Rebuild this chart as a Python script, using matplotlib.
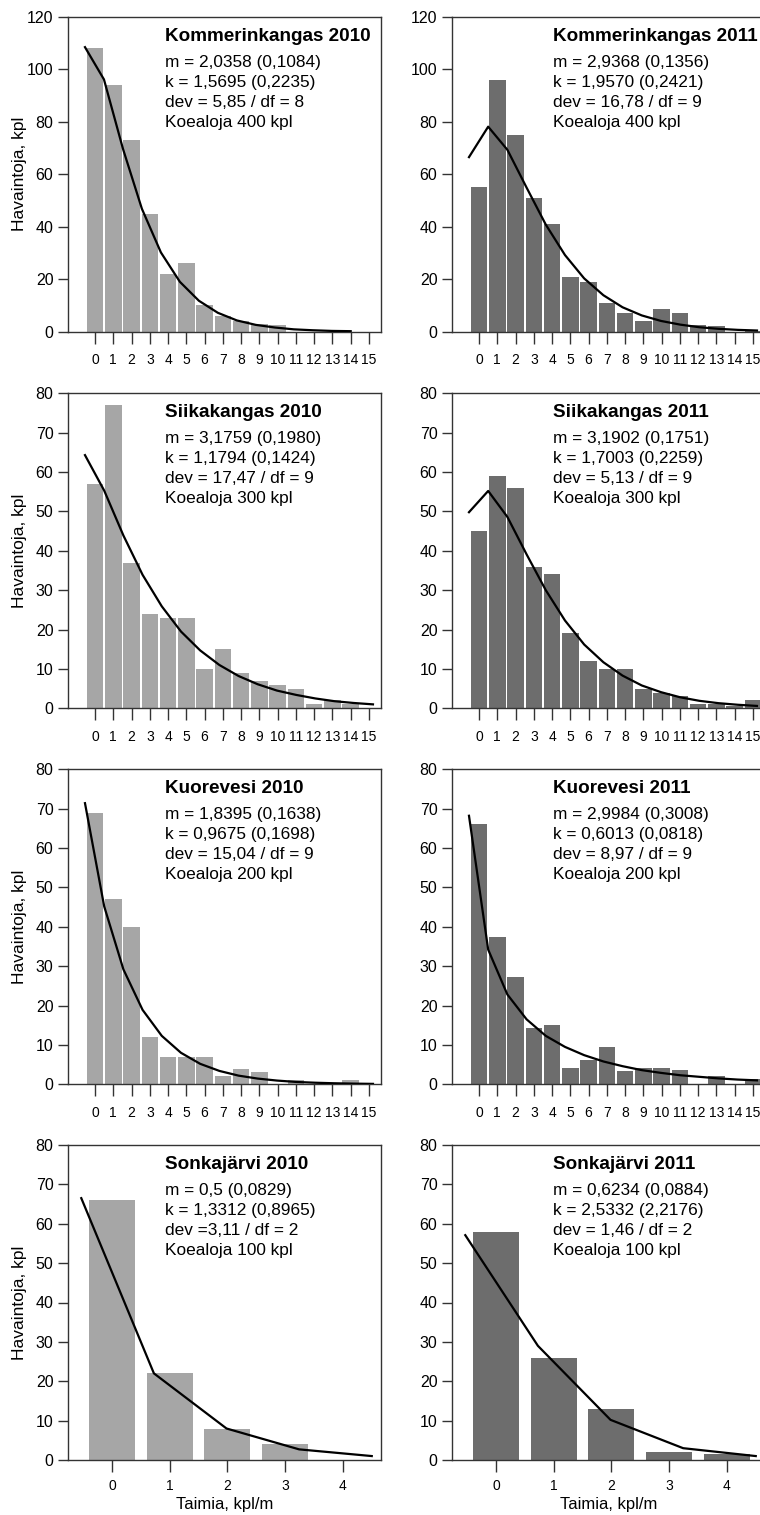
import numpy as np
import matplotlib.pyplot as plt

plt.rcParams['font.family'] = ['Liberation Sans', 'DejaVu Sans']

# Havaitut koealat (pylväät) ja sovitettu negatiivinen binomijakauma (viiva)
kom10_obs = [108, 94, 73, 45, 22, 26, 10, 6, 4, 3, 2.5, 0, 0, 0, 0, 0]
kom10_fit = [108.4, 96.1, 69.7, 46.8, 30.2, 19.0, 11.8, 7.2, 4.3, 2.6, 1.6, 0.9, 0.55, 0.3, 0.2]
kom11_obs = [55, 96, 75, 51, 41, 21, 19, 11, 7, 4, 8.5, 7, 2.5, 2, 0, 0.3]
kom11_fit = [66.5, 78.1, 69.3, 54.9, 40.8, 29.2, 20.3, 13.9, 9.3, 6.2, 4.1, 2.7, 1.7, 1.1, 0.7, 0.45]
sii10_obs = [57, 77, 37, 24, 23, 23, 10, 15, 9, 7, 6, 5, 1, 2, 1, 0]
sii10_fit = [64.3, 55.3, 43.9, 33.9, 25.9, 19.5, 14.7, 11.0, 8.2, 6.1, 4.5, 3.4, 2.5, 1.8, 1.35, 1.0]
sii11_obs = [45, 59, 56, 36, 34, 19, 12, 10, 10, 5, 4, 3, 1, 1, 0.5, 2]
sii11_fit = [49.8, 55.2, 48.6, 39.1, 30.0, 22.3, 16.2, 11.7, 8.3, 5.8, 4.1, 2.8, 1.9, 1.3, 0.9, 0.6]
kuo10_obs = [69, 47, 40, 12, 7, 7, 7, 2, 4, 3, 0, 1, 0, 0, 1, 0]
kuo10_fit = [71.4, 45.2, 29.2, 18.9, 12.3, 8.0, 5.2, 3.4, 2.2, 1.45, 0.95, 0.6, 0.4, 0.26, 0.17, 0.11]
kuo11_obs = [66, 37.5, 27.3, 14.2, 15.1, 4.1, 6.1, 9.5, 3.4, 4.2, 4.2, 3.6, 0, 2.1, 0, 1.3]
kuo11_fit = [68.2, 34.2, 22.8, 16.5, 12.3, 9.5, 7.4, 5.8, 4.6, 3.6, 2.9, 2.3, 1.9, 1.5, 1.2, 1.0]
son10_obs = [66, 22, 8, 4, 0]
son10_fit = [66.5, 22, 8, 2.7, 1.0]
son11_obs = [58, 26, 13, 2, 1.4]
son11_fit = [57.1, 29.0, 10.2, 3.0, 1.0]

otsikot = ['Kommerinkangas 2010', 'Kommerinkangas 2011',
           'Siikakangas 2010', 'Siikakangas 2011',
           'Kuorevesi 2010', 'Kuorevesi 2011',
           'Sonkajärvi 2010', 'Sonkajärvi 2011']
tunnusluvut = [
    ['m = 2,0358 (0,1084)', 'k = 1,5695 (0,2235)', 'dev = 5,85 / df = 8', 'Koealoja 400 kpl'],
    ['m = 2,9368 (0,1356)', 'k = 1,9570 (0,2421)', 'dev = 16,78 / df = 9', 'Koealoja 400 kpl'],
    ['m = 3,1759 (0,1980)', 'k = 1,1794 (0,1424)', 'dev = 17,47 / df = 9', 'Koealoja 300 kpl'],
    ['m = 3,1902 (0,1751)', 'k = 1,7003 (0,2259)', 'dev = 5,13 / df = 9', 'Koealoja 300 kpl'],
    ['m = 1,8395 (0,1638)', 'k = 0,9675 (0,1698)', 'dev = 15,04 / df = 9', 'Koealoja 200 kpl'],
    ['m = 2,9984 (0,3008)', 'k = 0,6013 (0,0818)', 'dev = 8,97 / df = 9', 'Koealoja 200 kpl'],
    ['m = 0,5 (0,0829)', 'k = 1,3312 (0,8965)', 'dev =3,11 / df = 2', 'Koealoja 100 kpl'],
    ['m = 0,6234 (0,0884)', 'k = 2,5332 (2,2176)', 'dev = 1,46 / df = 2', 'Koealoja 100 kpl'],
]
havainnot = [kom10_obs, kom11_obs, sii10_obs, sii11_obs, kuo10_obs, kuo11_obs, son10_obs, son11_obs]
sovitteet = [kom10_fit, kom11_fit, sii10_fit, sii11_fit, kuo10_fit, kuo11_fit, son10_fit, son11_fit]
ylarajat = [120, 120, 80, 80, 80, 80, 80, 80]

vari_2010 = '#a6a6a6'
vari_2011 = '#6d6d6d'

fig = plt.figure(figsize=(7.6, 15.15), dpi=100)

W, H = 760, 1515
vasen = [68, 452]
leveys = 313
rivit_yla = [16.7, 393.3, 769.3, 1145]
korkeus = 315

for i in range(8):
    rivi, sarake = i // 2, i % 2
    ax = fig.add_axes([vasen[sarake] / W, 1 - (rivit_yla[rivi] + korkeus) / H,
                       leveys / W, korkeus / H])
    obs = havainnot[i]
    fit = sovitteet[i]
    n = len(obs)
    x = np.arange(n)
    vari = vari_2010 if sarake == 0 else vari_2011
    ax.set_ylim(0, ylarajat[i])
    if n > 5:
        ax.bar(x, obs, width=0.9, color=vari, edgecolor='none', zorder=2)
        x_loppu = 14.0 if len(fit) < n else 15.22
        ax.set_xlim(-1.48, 15.66)
        ax.set_yticks(np.arange(0, ylarajat[i] + 1, 20 if ylarajat[i] == 120 else 10))
        xl = np.linspace(-0.55, x_loppu, len(fit))
        xpad = 7
    else:
        ax.bar(x, obs, width=0.8, color=vari, edgecolor='none', zorder=2)
        ax.set_xlim(-0.76, 4.66)
        ax.set_yticks(np.arange(0, ylarajat[i] + 1, 10))
        xl = np.linspace(-0.53, 4.5, len(fit))
        xpad = 5
        ax.set_xlabel('Taimia, kpl/m', fontsize=12)
        ax.xaxis.set_label_coords(0.5, -0.1175)
    ax.plot(xl, fit, color='black', lw=1.6, zorder=3, solid_joinstyle='round')
    ax.set_xticks(x)
    ax.set_xticklabels([str(v) for v in x], fontsize=10)

    for s in ax.spines.values():
        s.set_color('#333333')
        s.set_linewidth(1.0)
    ax.tick_params(axis='y', direction='out', length=7.5, width=1.0, color='#333333',
                   labelsize=11.5, pad=3)
    ax.tick_params(axis='x', direction='out', length=8.5, width=1.0, color='#333333',
                   pad=xpad)

    if sarake == 0:
        ax.set_ylabel('Havaintoja, kpl', fontsize=12.5)
        ax.yaxis.set_label_coords(-0.13, 0.5)

    tx = 0.311 if sarake == 0 else 0.324
    ax.text(tx, 1 - 24 / korkeus, otsikot[i], transform=ax.transAxes,
            fontsize=13.6, fontweight='bold', va='baseline', ha='left')
    for j, rivi_txt in enumerate(tunnusluvut[i]):
        ax.text(tx, 1 - (50 + 20 * j) / korkeus, rivi_txt, transform=ax.transAxes,
                fontsize=12.4, va='baseline', ha='left')

fig.savefig('out.png', dpi=100)
